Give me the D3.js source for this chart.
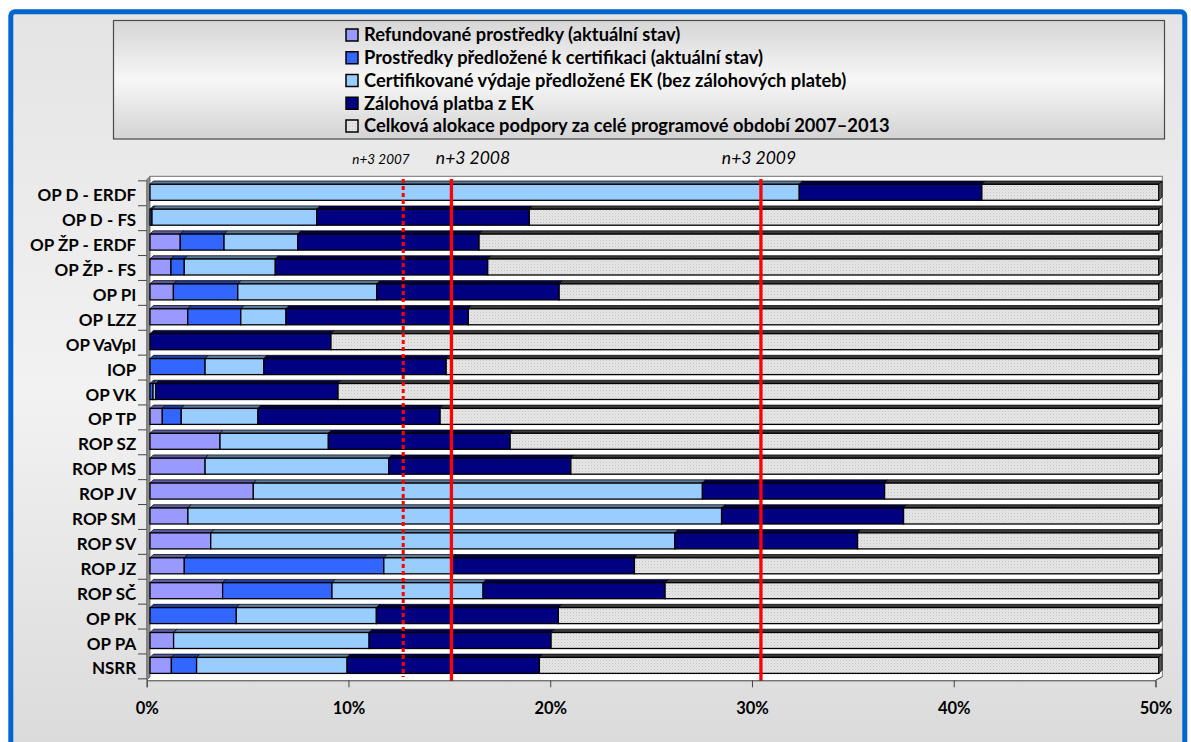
<!DOCTYPE html>
<html><head><meta charset="utf-8">
<script src="https://cdn.jsdelivr.net/npm/d3@7"></script>
<style>html,body{margin:0;padding:0;background:#fff;} svg{display:block;}</style>
</head><body><svg id="chart" width="1191" height="742"></svg>
<script>
// ---------- data (percent of total 2007–2013 allocation) ----------
const categories = ['OP D - ERDF','OP D - FS','OP ŽP - ERDF','OP ŽP - FS','OP PI','OP LZZ','OP VaVpI','IOP','OP VK','OP TP',
  'ROP SZ','ROP MS','ROP JV','ROP SM','ROP SV','ROP JZ','ROP SČ','OP PK','OP PA','NSRR'];
const refunded  = [0, 0, 1.50, 1.04, 1.16, 1.87, 0, 0, 0, 0.61, 3.47, 2.73, 5.12, 1.88, 3.01, 1.70, 3.60, 0, 1.17, 1.06];
const submitted = [0, 0.10, 2.17, 0.66, 3.19, 2.63, 0, 2.73, 0.15, 0.94, 0, 0, 0, 0, 0, 9.89, 5.42, 4.28, 0, 1.25];
const certified = [32.18, 8.16, 3.65, 4.51, 6.89, 2.24, 0, 2.91, 0.13, 3.80, 5.37, 9.10, 22.26, 26.45, 23.00, 3.37, 7.49, 6.94, 9.69, 7.46];
const advance   = [9.05, 10.54, 8.99, 10.53, 9.04, 9.04, 8.97, 9.04, 9.04, 9.03, 9.01, 9.03, 9.03, 9.02, 9.06, 9.05, 9.02, 9.02, 9.02, 9.53];
const seriesNames = [
  'Refundované prostředky (aktuální stav)',
  'Prostředky předložené k certifikaci (aktuální stav)',
  'Certifikované výdaje předložené EK (bez zálohových plateb)',
  'Zálohová platba z EK',
  'Celková alokace podpory za celé programové období 2007–2013'
];
const tickValues = [0, 10, 20, 30, 40, 50];
const deadlineLabels = ['n+3 2007', 'n+3 2008', 'n+3 2009'];
const deadlineValues = [12.55, 14.94, 30.28];

// ---------- styling ----------
const seriesColors = ['#9999FF', '#3366FF', '#99CCFF', '#000080', 'url(#dots)'];
const topColors = ['#5c5ca0', '#1f3d99', '#5c7a99', '#00004a', '#3a3a3a'];
const keys = ['refunded', 'submitted', 'certified', 'advance', 'rest'];

const svg = d3.select('#chart');
const defs = svg.append('defs');

const bg = defs.append('linearGradient').attr('id', 'bg').attr('x1', 0).attr('y1', 0).attr('x2', 0).attr('y2', 1);
bg.append('stop').attr('offset', '0%').attr('stop-color', '#e4e4e4');
bg.append('stop').attr('offset', '50%').attr('stop-color', '#f2f2f2');
bg.append('stop').attr('offset', '100%').attr('stop-color', '#d9d9d9');

const lg = defs.append('linearGradient').attr('id', 'lg').attr('x1', 0).attr('y1', 0).attr('x2', 0).attr('y2', 1);
lg.append('stop').attr('offset', '0%').attr('stop-color', '#d6d6d6');
lg.append('stop').attr('offset', '50%').attr('stop-color', '#f7f7f7');
lg.append('stop').attr('offset', '100%').attr('stop-color', '#d3d3d3');

const pat = defs.append('pattern').attr('id', 'dots').attr('width', 3).attr('height', 3).attr('patternUnits', 'userSpaceOnUse');
pat.append('rect').attr('width', 3).attr('height', 3).attr('fill', '#e6e6e6');
pat.append('rect').attr('x', 0).attr('y', 0).attr('width', 1).attr('height', 1).attr('fill', '#c4c4c4');
pat.append('rect').attr('x', 1.5).attr('y', 1.5).attr('width', 1).attr('height', 1).attr('fill', '#d2d2d2');

// outer frame
svg.append('rect').attr('width', 1191).attr('height', 742).attr('fill', '#fff');
svg.append('rect').attr('x', 10.8).attr('y', 11.8).attr('width', 1174).attr('height', 760)
  .attr('rx', 4).attr('fill', 'url(#bg)').attr('stroke', '#0066CC').attr('stroke-width', 5);

// legend
svg.append('rect').attr('x', 113.5).attr('y', 20.5).attr('width', 1051).attr('height', 118.5)
  .attr('fill', 'url(#lg)').attr('stroke', '#4a4a4a').attr('stroke-width', 1.2);
const legY = d3.scalePoint().domain(seriesNames).range([35, 126]);
const leg = svg.append('g').selectAll('g').data(seriesNames).join('g')
  .attr('transform', d => `translate(346,${legY(d)})`);
leg.append('rect').attr('x', 0).attr('y', -6).attr('width', 12).attr('height', 12)
  .attr('fill', (d, i) => seriesColors[i]).attr('stroke', '#000').attr('stroke-width', 1.5);
leg.append('text').attr('x', 18).attr('y', 6.3)
  .attr('font-family', 'Lato, sans-serif').attr('font-weight', 'bold').attr('font-size', 18.3)
  .attr('fill', '#000').text(d => d);

// scales
const xAxisScale = d3.scaleLinear().domain([0, 50]).range([146.7, 1155.5]);
const xBar = d3.scaleLinear().domain([0, 50]).range([150, 1158.8]).clamp(true);
const y = d3.scalePoint().domain(categories).range([192.3, 665.4]);
const step = y.step();
const bh = 16, dx = 3.3, dy = 3.3;

// plot walls
const plot = svg.append('g');
plot.append('path')
  .attr('d', `M150,176.4 L1162.4,176.4 L1162.4,676.7 L1155.5,680.3 L146.7,680.3 L146.7,179.7 Z`)
  .attr('fill', '#fff').attr('stroke', 'none');
plot.append('path').attr('d', `M150,176.4 L1162.4,176.4 L1162.4,676.7`)
  .attr('fill', 'none').attr('stroke', '#8a8a8a').attr('stroke-width', 1.2);
plot.append('path').attr('d', `M146.7,179.7 L150,176.4 L150,676.9 L146.7,680.3 Z`)
  .attr('fill', '#8c8c8c').attr('stroke', '#555').attr('stroke-width', 0.8);
plot.append('path').attr('d', `M1162.4,676.7 L1155.5,680.3`)
  .attr('fill', 'none').attr('stroke', '#444').attr('stroke-width', 1);

// category boundary ticks
plot.selectAll('line.ct').data(d3.range(categories.length + 1)).join('line')
  .attr('class', 'ct')
  .attr('x1', 138).attr('x2', 146.7)
  .attr('y1', i => y(categories[0]) - step / 2 + 1 + i * step)
  .attr('y2', i => y(categories[0]) - step / 2 + 1 + i * step)
  .attr('stroke', '#444').attr('stroke-width', 1);

// stacked bars
const rows = categories.map((c, i) => {
  const r = { cat: c, refunded: refunded[i], submitted: submitted[i], certified: certified[i], advance: advance[i] };
  r.rest = 100 - (r.refunded + r.submitted + r.certified + r.advance);
  return r;
});
const stacked = d3.stack().keys(keys)(rows);

const barG = plot.append('g');
stacked.forEach((layer, li) => {
  const segs = layer.filter(d => xBar(d[1]) - xBar(d[0]) > 0.05);
  const g = barG.append('g');
  g.selectAll('path.top').data(segs).join('path').attr('class', 'top')
    .attr('d', d => {
      const x0 = xBar(d[0]), x1 = xBar(d[1]), yt = y(d.data.cat) - bh / 2;
      return `M${x0},${yt} L${x1},${yt} L${x1 + dx},${yt - dy} L${x0 + dx},${yt - dy} Z`;
    })
    .attr('fill', topColors[li]).attr('stroke', '#000').attr('stroke-width', 0.7);
  g.selectAll('rect.front').data(segs).join('rect').attr('class', 'front')
    .attr('x', d => xBar(d[0])).attr('width', d => xBar(d[1]) - xBar(d[0]))
    .attr('y', d => y(d.data.cat) - bh / 2).attr('height', bh)
    .attr('fill', seriesColors[li]).attr('stroke', '#000').attr('stroke-width', 1.3);
});
// right side faces
barG.selectAll('path.side').data(rows).join('path').attr('class', 'side')
  .attr('d', d => {
    const x1 = xBar(100), yt = y(d.cat) - bh / 2;
    return `M${x1},${yt} L${x1 + dx},${yt - dy} L${x1 + dx},${yt + bh - dy} L${x1},${yt + bh} Z`;
  })
  .attr('fill', '#555').attr('stroke', '#000').attr('stroke-width', 0.8);

// deadline lines
const dl = plot.append('g');
dl.selectAll('line').data(deadlineValues).join('line')
  .attr('x1', d => xBar(d)).attr('x2', d => xBar(d))
  .attr('y1', 179).attr('y2', (d, i) => i === 0 ? 677 : 681)
  .attr('stroke', '#FF0000').attr('stroke-width', (d, i) => i === 0 ? 3 : 3.3)
  .attr('stroke-dasharray', (d, i) => i === 0 ? '4,3' : null);
dl.selectAll('text').data(deadlineLabels).join('text')
  .attr('x', (d, i) => [381, 473, 759][i]).attr('y', 164)
  .attr('text-anchor', 'middle')
  .attr('font-family', 'Lato, sans-serif').attr('font-style', 'italic')
  .attr('font-size', (d, i) => i === 0 ? 13.5 : 17.5)
  .attr('fill', '#000').text(d => d);

// x axis
const xAxis = svg.append('g').attr('transform', 'translate(0,680.3)')
  .call(d3.axisBottom(xAxisScale).tickValues(tickValues).tickSize(7).tickFormat(d => d + '%'));
xAxis.select('.domain').attr('stroke', '#444');
xAxis.selectAll('.tick line').attr('stroke', '#444');
xAxis.selectAll('text').attr('y', 33.3).attr('dy', 0)
  .attr('font-family', 'Lato, sans-serif').attr('font-weight', 'bold').attr('font-size', 16.5).attr('fill', '#000');

// y axis labels
const yAxis = svg.append('g').attr('transform', 'translate(146.7,0)')
  .call(d3.axisLeft(y).tickSize(0).tickPadding(10.5));
yAxis.select('.domain').remove();
yAxis.selectAll('text').attr('font-family', 'Lato, sans-serif').attr('font-weight', 'bold')
  .attr('font-size', 17).attr('fill', '#000').attr('dy', '0.5em');
</script>
</body></html>
